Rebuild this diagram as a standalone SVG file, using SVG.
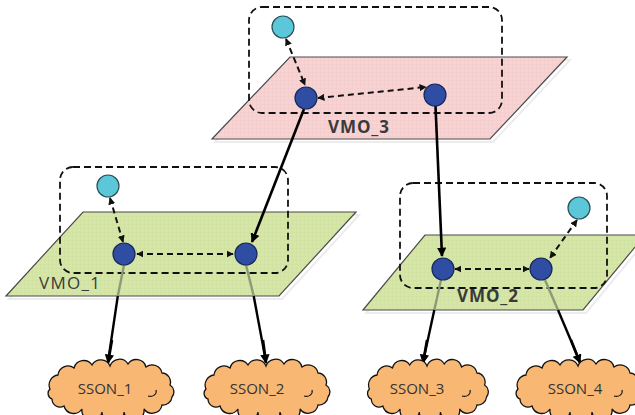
<svg xmlns="http://www.w3.org/2000/svg" width="635" height="415" viewBox="0 0 635 415">
<style>
.plane{stroke:#4a4a4a;stroke-width:1.2}
.shadow{fill:none;stroke:#ececec;stroke-width:2}
.box{fill:none;stroke:#111;stroke-width:1.8;stroke-dasharray:7 4}
.dash{fill:none;stroke:#111;stroke-width:2;stroke-dasharray:6 4;marker-start:url(#ds);marker-end:url(#de)}
.solid{fill:none;stroke:#000;stroke-width:2.6;marker-end:url(#se)}
.down{fill:none;stroke:#000;stroke-width:2.4}
.downin{fill:none;stroke:#8c9a78;stroke-width:2.4}
.blue{fill:#2f4ea3;stroke:#18285c;stroke-width:1.2}
.cyan{fill:#5cc7d8;stroke:#2b4f58;stroke-width:1.2}
.cloud{fill:#f8b874;stroke:#111;stroke-width:1.3}
.curl{fill:none;stroke:#111;stroke-width:1.1}
.vmo{font-family:"Open Sans","Liberation Sans",sans-serif;font-size:17px;fill:#3a3a3a}
.sson{font-family:"Open Sans","Liberation Sans",sans-serif;font-size:15px;fill:#333;text-anchor:middle}
</style>
<defs>
<pattern id="gp" width="4" height="4" patternUnits="userSpaceOnUse">
<rect width="4" height="4" fill="#f8d3d3"/>
<path d="M0 0.5H4M0.5 0V4" stroke="#f3caca" stroke-width="0.5"/>
</pattern>
<pattern id="gg" width="4" height="4" patternUnits="userSpaceOnUse">
<rect width="4" height="4" fill="#d6e6a8"/>
<path d="M0 0.5H4M0.5 0V4" stroke="#cfe09e" stroke-width="0.5"/>
</pattern>
<marker id="de" viewBox="0 0 10 10" refX="9" refY="5" markerWidth="3.6" markerHeight="3.6" orient="auto"><path d="M0 0L10 5L0 10z" fill="#111"/></marker>
<marker id="ds" viewBox="0 0 10 10" refX="1" refY="5" markerWidth="3.6" markerHeight="3.6" orient="auto"><path d="M10 0L0 5L10 10z" fill="#111"/></marker>
<marker id="se" viewBox="0 0 10 10" refX="9" refY="5" markerWidth="3.6" markerHeight="3.6" orient="auto"><path d="M0 0L10 5L0 10z" fill="#000"/></marker>
<path id="cl" d="M-60 2 A10 10 0 0 1 -52 -12 A10 10 0 0 1 -36 -19 A10 10 0 0 1 -18 -22 A10 10 0 0 1 0 -21 A10 10 0 0 1 18 -23 A10 10 0 0 1 36 -20 A10 10 0 0 1 52 -14 A9 9 0 0 1 60 -2 A8 8 0 0 1 62 10 A9 9 0 0 1 52 18 A10 10 0 0 1 34 22 A10 10 0 0 1 14 25 A11 11 0 0 1 -8 25 A10 10 0 0 1 -28 22 A10 10 0 0 1 -46 19 A8 8 0 0 1 -58 12 A6 6 0 0 1 -60 2 Z"/>
</defs>

<g id="planes">
<g id="VMO_3">
<polygon class="shadow" points="293,60 570,60 493,142 215,142"/>
<polygon class="plane" fill="url(#gp)" points="290,57 567,57 490,139 212,139"/>
<text class="vmo" x="328" y="133" font-weight="700" textLength="61">VMO_3</text>
</g>
<g id="VMO_1">
<polygon class="shadow" points="86,215 359,215 282,299 9,299"/>
<polygon class="plane" fill="url(#gg)" points="83,212 356,212 279,296 6,296"/>
<text class="vmo" x="39" y="289" textLength="61">VMO_1</text>
</g>
<g id="VMO_2">
<polygon class="shadow" points="428,238 648,238 586,313 366,313"/>
<polygon class="plane" fill="url(#gg)" points="425,235 645,235 583,310 363,310"/>
<text class="vmo" x="457" y="302" font-weight="700" textLength="61">VMO_2</text>
</g>
</g>

<g id="groups">
<rect id="box3" class="box" x="249" y="7" width="253" height="106" rx="13"/>
<rect id="box1" class="box" x="60" y="167" width="228" height="106" rx="13"/>
<rect id="box2" class="box" x="400" y="183" width="207" height="105" rx="13"/>
</g>

<g id="connectors">
<path class="dash" d="M286 39 L305 85"/>
<path class="dash" d="M318 98 L426 87"/>
<path class="dash" d="M110 198 L123 242"/>
<path class="dash" d="M137 254 L233 254"/>
<path class="dash" d="M577 220 L550 258"/>
<path class="dash" d="M455 269 L529 269"/>
<path class="solid" d="M304 109 L252 242"/>
<path class="solid" d="M435.5 106 L442 256"/>
<path class="downin" d="M124 265 L117.8 296"/>
<path class="down" d="M117.8 296 L108 362"/>
<path class="downin" d="M246 265 L253.7 296"/>
<path class="down" d="M253.7 296 L266 362"/>
<path class="downin" d="M441 280 L434.3 310"/>
<path class="down" d="M434.3 310 L423 362"/>
<path class="downin" d="M545 280 L558 310"/>
<path class="down" d="M558 310 L580 362"/>
<path class="solid" d="M112 340 L108 363"/>
<path class="solid" d="M263 340 L266 363"/>
<path class="solid" d="M427 340 L423 363"/>
<path class="solid" d="M571 340 L580 363"/>
</g>

<g id="nodes">
<circle id="c3" class="cyan" cx="283" cy="27" r="11"/>
<circle id="n3a" class="blue" cx="306" cy="98" r="11"/>
<circle id="n3b" class="blue" cx="435" cy="95" r="11"/>
<circle id="c1" class="cyan" cx="108" cy="186" r="11"/>
<circle id="n1a" class="blue" cx="124" cy="254" r="11"/>
<circle id="n1b" class="blue" cx="246" cy="254" r="11"/>
<circle id="c2" class="cyan" cx="579" cy="208" r="11"/>
<circle id="n2a" class="blue" cx="443" cy="269" r="11"/>
<circle id="n2b" class="blue" cx="541" cy="269" r="11"/>
</g>

<g id="SSON_1">
<use href="#cl" class="cloud" transform="translate(110,387)"/>
<path class="curl" d="M148 396 a6 5 0 0 0 8 -6"/>
<text class="sson" x="105" y="394">SSON_1</text>
</g>
<g id="SSON_2">
<use href="#cl" class="cloud" transform="translate(266,387)"/>
<path class="curl" d="M304 396 a6 5 0 0 0 8 -6"/>
<text class="sson" x="257" y="394">SSON_2</text>
</g>
<g id="SSON_3">
<use href="#cl" class="cloud" transform="translate(427,387) scale(0.96,1)"/>
<path class="curl" d="M462 396 a6 5 0 0 0 8 -6"/>
<text class="sson" x="417" y="394">SSON_3</text>
</g>
<g id="SSON_4">
<use href="#cl" class="cloud" transform="translate(578,387)"/>
<path class="curl" d="M614 396 a6 5 0 0 0 8 -6"/>
<text class="sson" x="575" y="394">SSON_4</text>
</g>
</svg>
